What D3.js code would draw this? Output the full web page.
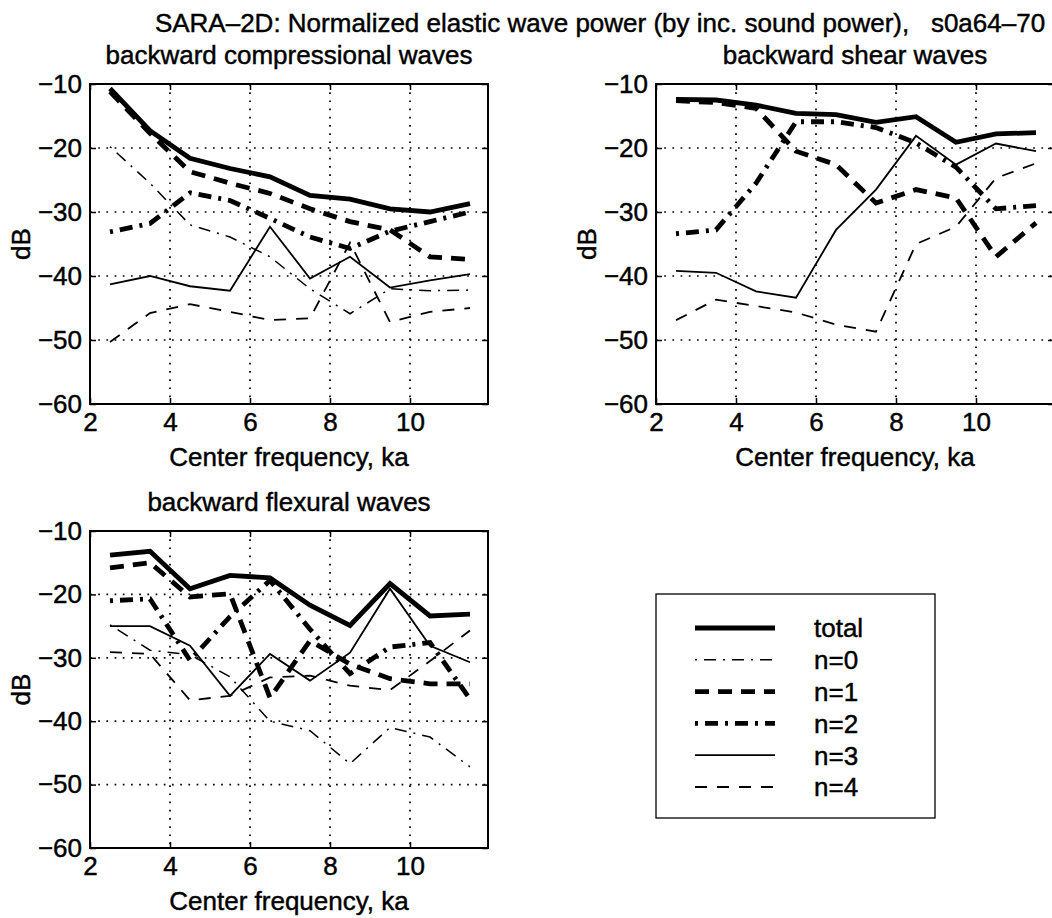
<!DOCTYPE html>
<html>
<head>
<meta charset="utf-8">
<script src="https://cdn.jsdelivr.net/npm/d3@7"></script>
<style>
  html, body { margin: 0; padding: 0; background: #fff; }
  svg { display: block; }
  text { font-family: "Liberation Sans", Arial, Helvetica, sans-serif; fill: #000; stroke: #000; stroke-width: 0.45px; }
</style>
</head>
<body>
<svg id="fig" width="1052" height="918"></svg>
<script>
// Center frequencies (ka) of the analysis bands
const freqs = [2.5, 3.5, 4.5, 5.5, 6.5, 7.5, 8.5, 9.5, 10.5, 11.5];
const xTicks = [2, 4, 6, 8, 10];
const yTicks = [-60, -50, -40, -30, -20, -10];
const seriesNames = ["total", "n=0", "n=1", "n=2", "n=3", "n=4"];

// Backward compressional waves (dB)
const compTotal = [-10.7, -17.3, -21.6, -23.2, -24.5, -27.4, -28.0, -29.5, -30.0, -28.7];
const compN0    = [-19.8, -25.5, -32.0, -33.9, -37.0, -42.0, -45.9, -42.0, -42.3, -42.2];
const compN1    = [-11.2, -17.7, -23.7, -25.5, -27.1, -29.5, -31.5, -32.8, -37.0, -37.4];
const compN2    = [-33.1, -31.8, -27.0, -28.2, -31.0, -33.9, -35.7, -33.0, -31.5, -30.0];
const compN3    = [-41.3, -40.0, -41.6, -42.3, -32.3, -40.4, -37.0, -41.8, -40.7, -39.7];
const compN4    = [-50.3, -45.8, -44.4, -45.6, -46.9, -46.6, -34.8, -47.2, -45.6, -45.0];

// Backward shear waves (dB); no n=0 contribution
const shearTotal = [-12.4, -12.5, -13.3, -14.6, -14.8, -16.0, -15.1, -19.1, -17.8, -17.6];
const shearN0    = [];
const shearN1    = [-12.6, -12.9, -13.8, -20.5, -22.6, -28.6, -26.5, -27.8, -37.0, -31.7];
const shearN2    = [-33.4, -32.8, -25.5, -15.9, -15.9, -16.8, -19.2, -23.0, -29.5, -29.0];
const shearN3    = [-39.2, -39.5, -42.4, -43.4, -32.8, -26.5, -18.1, -22.6, -19.3, -20.5];
const shearN4    = [-46.9, -43.7, -44.7, -45.7, -47.6, -48.7, -35.0, -32.3, -24.7, -22.4];

// Backward flexural waves (dB)
const flexTotal = [-13.8, -13.2, -19.1, -17.0, -17.4, -21.7, -24.9, -18.3, -23.4, -23.1];
const flexN0    = [-24.8, -28.8, -29.5, -33.0, -40.0, -41.5, -46.7, -41.0, -42.5, -47.2];
const flexN1    = [-15.8, -15.0, -20.4, -19.9, -36.3, -27.3, -31.0, -33.3, -34.1, -34.1];
const flexN2    = [-21.0, -20.7, -30.4, -23.5, -17.8, -25.5, -32.5, -28.3, -27.6, -36.5];
const flexN3    = [-25.0, -25.0, -28.1, -36.0, -29.4, -33.6, -29.2, -19.1, -28.1, -30.7];
const flexN4    = [-29.1, -29.4, -36.7, -36.0, -33.1, -32.8, -34.4, -35.1, -30.5, -25.7];

const mainTitle = "SARA\u20132D: Normalized elastic wave power (by inc. sound power),   s0a64\u201370";
const xLabel = "Center frequency, ka";
const yLabel = "dB";

// Line styles per series (dash-dot patterns start with the dot)
const styles = {
  "total": { w: 4.8, dash: null },
  "n=0":   { w: 1.5, dash: "2,7,12,7" },
  "n=1":   { w: 4.8, dash: "14,9" },
  "n=2":   { w: 4.8, dash: "3,7,13,7" },
  "n=3":   { w: 1.8, dash: null },
  "n=4":   { w: 1.8, dash: "12,10" }
};

const FS = 26;
const svg = d3.select("#fig");

const panels = [
  { title: "backward compressional waves", left: 90, top: 84, w: 398, h: 320,
    series: [compTotal, compN0, compN1, compN2, compN3, compN4] },
  { title: "backward shear waves", left: 656, top: 84, w: 398, h: 320,
    series: [shearTotal, shearN0, shearN1, shearN2, shearN3, shearN4] },
  { title: "backward flexural waves", left: 90, top: 531, w: 398, h: 317,
    series: [flexTotal, flexN0, flexN1, flexN2, flexN3, flexN4] }
];

svg.append("text")
  .attr("x", 600).attr("y", 32)
  .attr("text-anchor", "middle")
  .attr("font-size", FS)
  .style("white-space", "pre")
  .attr("xml:space", "preserve")
  .text(mainTitle);

panels.forEach(p => {
  const x = d3.scaleLinear().domain([2, 11.95]).range([p.left, p.left + p.w]);
  const y = d3.scaleLinear().domain([-60, -10]).range([p.top + p.h, p.top]);
  const g = svg.append("g");

  // dotted grid
  const grid = g.append("g").attr("stroke", "#000").attr("stroke-width", 1.7)
    .attr("stroke-dasharray", "1.7,6.5");
  xTicks.filter(t => t > 2).forEach(t => {
    grid.append("line").attr("x1", x(t)).attr("x2", x(t))
      .attr("y1", y(-10)).attr("y2", y(-60));
  });
  yTicks.filter(t => t > -60 && t < -10).forEach(t => {
    grid.append("line").attr("x1", x(2)).attr("x2", x(11.95))
      .attr("y1", y(t)).attr("y2", y(t));
  });

  // axes with inward ticks
  const ax = g.append("g").attr("transform", `translate(0,${p.top + p.h})`)
    .call(d3.axisBottom(x).tickValues(xTicks).tickSize(-6).tickPadding(9).tickFormat(d3.format("d")));
  const ay = g.append("g").attr("transform", `translate(${p.left},0)`)
    .call(d3.axisLeft(y).tickValues(yTicks).tickSize(-6).tickPadding(8).tickFormat(d3.format("d")));
  const at = g.append("g").attr("transform", `translate(0,${p.top})`)
    .call(d3.axisTop(x).tickValues(xTicks).tickSize(-6).tickFormat(""));
  const ar = g.append("g").attr("transform", `translate(${p.left + p.w},0)`)
    .call(d3.axisRight(y).tickValues(yTicks).tickSize(-6).tickFormat(""));
  [ax, ay, at, ar].forEach(a => {
    a.selectAll(".domain").remove();
    a.selectAll(".tick line").attr("stroke", "#000").attr("stroke-width", 1.5);
    a.selectAll("text").attr("font-size", FS)
      .attr("font-family", "Liberation Sans, Arial, Helvetica, sans-serif").attr("fill", "#000");
  });

  // box
  g.append("rect").attr("x", p.left).attr("y", p.top).attr("width", p.w).attr("height", p.h)
    .attr("fill", "none").attr("stroke", "#000").attr("stroke-width", 2);

  // series lines
  const line = d3.line().x((d, i) => x(freqs[i])).y(d => y(d));
  p.series.forEach((vals, k) => {
    if (!vals.length) return;
    const st = styles[seriesNames[k]];
    g.append("path").datum(vals).attr("d", line)
      .attr("fill", "none").attr("stroke", "#000")
      .attr("stroke-width", st.w)
      .attr("stroke-dasharray", st.dash)
      .attr("stroke-linejoin", "miter");
  });

  // titles / labels
  const cx = p.left + p.w / 2;
  g.append("text").attr("x", cx).attr("y", p.top - 20)
    .attr("text-anchor", "middle").attr("font-size", FS).text(p.title);
  g.append("text").attr("x", cx).attr("y", p.top + p.h + 62)
    .attr("text-anchor", "middle").attr("font-size", FS).text(xLabel);
  g.append("text")
    .attr("transform", `translate(${p.left - 60},${p.top + p.h / 2}) rotate(-90)`)
    .attr("text-anchor", "middle").attr("font-size", FS).text(yLabel);
});

// legend
const leg = svg.append("g");
leg.append("rect").attr("x", 656).attr("y", 594).attr("width", 279).attr("height", 224)
  .attr("fill", "#fff").attr("stroke", "#000").attr("stroke-width", 1.3);
const ly = d3.scalePoint().domain(seriesNames).range([628, 787]);
seriesNames.forEach(name => {
  const st = styles[name];
  leg.append("line").attr("x1", 695).attr("x2", 775)
    .attr("y1", ly(name)).attr("y2", ly(name))
    .attr("stroke", "#000").attr("stroke-width", st.w)
    .attr("stroke-dasharray", st.dash);
  leg.append("text").attr("x", 814).attr("y", ly(name)).attr("dy", "0.36em")
    .attr("font-size", FS).text(name);
});
</script>
</body>
</html>
